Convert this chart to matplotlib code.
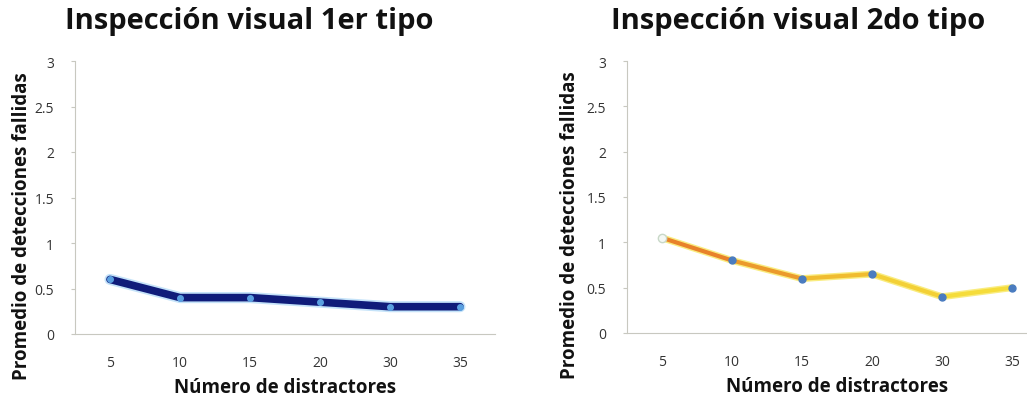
import numpy as np
import matplotlib
matplotlib.use("Agg")
import matplotlib.pyplot as plt

plt.rcParams['font.family'] = ['Open Sans', 'DejaVu Sans']

distractores = ["5", "10", "15", "20", "30", "35"]
tipo1 = [0.60, 0.40, 0.40, 0.35, 0.30, 0.30]
tipo2 = [1.05, 0.80, 0.60, 0.65, 0.40, 0.50]
yticks = [0, 0.5, 1, 1.5, 2, 2.5, 3]
ytick_labels = ["0", "0.5", "1", "1.5", "2", "2.5", "3"]

W, H = 1027, 402
fig = plt.figure(figsize=(W / 100, H / 100), dpi=100)
ax1 = fig.add_axes([75 / W, 67 / H, 420 / W, 273 / H])
ax2 = fig.add_axes([627 / W, 68 / H, 420 / W, 272 / H])

x = np.arange(len(distractores))


def style_axis(ax, title, title_x, ylab_x):
    ax.set_xlim(-0.5, len(distractores) - 0.5)
    ax.set_ylim(0, 3)
    ax.set_yticks(yticks)
    ax.set_yticklabels(ytick_labels)
    ax.set_xticks(x)
    ax.set_xticklabels(distractores)
    for s in ["top", "right"]:
        ax.spines[s].set_visible(False)
    for s in ["left", "bottom"]:
        ax.spines[s].set_color("#c8c8c0")
        ax.spines[s].set_linewidth(0.8)
    ax.tick_params(axis="y", length=3, color="#c8c8c0", labelsize=10,
                   labelcolor="#333333", pad=12)
    ax.tick_params(axis="x", length=0, labelsize=10, labelcolor="#333333", pad=15)
    fig.text(title_x / W, 1 - 22 / H, title, fontsize=21, fontweight="bold",
             color="#111111", ha="center", va="center")
    ax.set_xlabel("Número de distractores", fontsize=13.5, fontweight="bold",
                  color="#111111", labelpad=5)
    ax.set_ylabel("Promedio de detecciones fallidas", fontsize=13.5,
                  fontweight="bold", color="#111111", va="center")
    ax.yaxis.set_label_coords(ylab_x, 0.40)


# primer tipo: linea azul oscura con brillo celeste
ax1.plot(x, tipo1, color="#8cc8f4", lw=8, alpha=0.5, solid_capstyle="round", zorder=2)
ax1.plot(x, tipo1, color="#101c7a", lw=5.5, solid_capstyle="round", zorder=3)
ax1.plot(x, tipo1, ls="none", marker="o", ms=4, color="#5aa0e0", zorder=4)
style_axis(ax1, "Inspección visual 1er tipo", 249, -0.126)

# segundo tipo: linea naranja que pasa a amarillo
seg_colors = ["#e8822a", "#eb9a2c", "#f0bc30", "#f3d036", "#f5dc3a"]
ax2.plot(x, tipo2, color="#f8e860", lw=5, alpha=0.8, solid_capstyle="round", zorder=2)
for i in range(len(x) - 1):
    ax2.plot(x[i:i + 2], tipo2[i:i + 2], color=seg_colors[i], lw=3,
             solid_capstyle="round", zorder=3)
ax2.plot(x[1:], tipo2[1:], ls="none", marker="o", ms=5, color="#4a7cc0", zorder=4)
ax2.plot(x[:1], tipo2[:1], ls="none", marker="o", ms=6, mfc="#f4f8f4",
         mec="#c8d8c8", zorder=4)
style_axis(ax2, "Inspección visual 2do tipo", 798, -0.136)

fig.savefig("out.png", dpi=100)
